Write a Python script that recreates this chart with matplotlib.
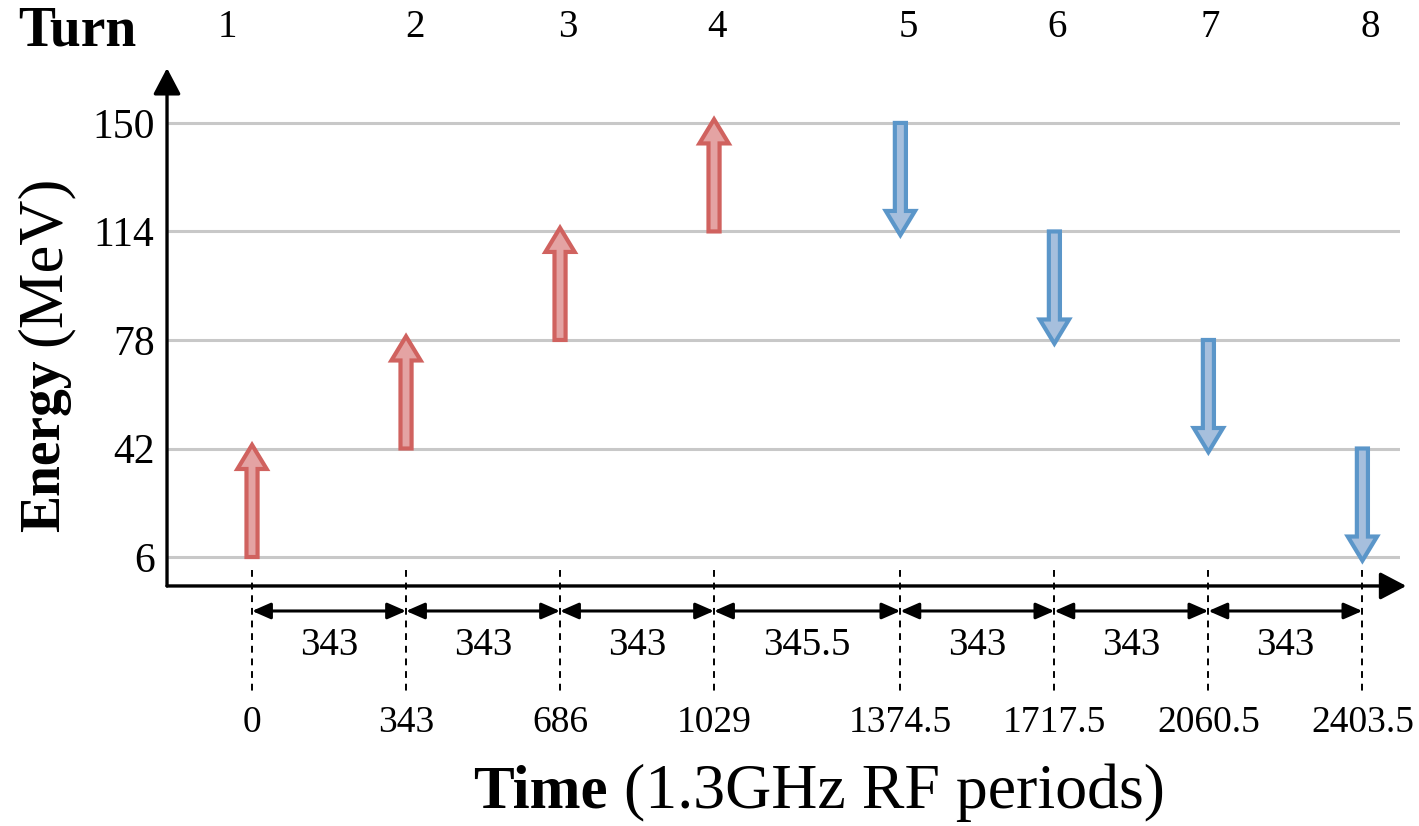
import numpy as np
import matplotlib
matplotlib.use("Agg")
import matplotlib.pyplot as plt
from matplotlib.patches import FancyArrow

# ============================================
# Data
# ============================================

turns = [1, 2, 3, 4, 5, 6, 7, 8]
times = [0, 343, 686, 1029, 1374.5, 1717.5, 2060.5, 2403.5]
time_labels = ["0", "343", "686", "1029", "1374.5", "1717.5", "2060.5", "2403.5"]
gap_labels = ["343", "343", "343", "345.5", "343", "343", "343"]
e_start = [6, 42, 78, 114, 150, 114, 78, 42]
e_end = [42, 78, 114, 150, 114, 78, 42, 6]
energy_ticks = [6, 42, 78, 114, 150]

# schematic x positions: one unit per 343 periods, wider step for the half-period gap
gaps = np.diff(times)
xpos = np.concatenate([[0], np.cumsum([1.0 if g == 343 else 1.21 for g in gaps])])

# small horizontal nudges (in axis units) of the turn numbers
turn_dx = [-0.16, 0.06, 0.05, 0.02, 0.05, 0.02, 0.01, 0.05]

RED_EDGE, RED_FACE = "#D0625F", "#E4A3A3"
BLUE_EDGE, BLUE_FACE = "#5B96C9", "#A6BFDD"
SERIF = ["Liberation Serif", "DejaVu Serif"]

plt.rcParams["font.family"] = SERIF

# ============================================
# Figure
# ============================================

fig = plt.figure(figsize=(14.19, 8.26), dpi=100)
ax = fig.add_axes([0.1177, 0.2906, 0.869, 0.627])
ax.set_xlim(-0.552, 7.455)
ax.set_ylim(-3.6, 168.2)

for s in ax.spines.values():
    s.set_visible(False)

ax.set_xticks([])
ax.set_yticks(energy_ticks)
ax.set_yticklabels([str(v) for v in energy_ticks], fontsize=30)
ax.tick_params(axis="y", length=0, pad=9)
ax.yaxis.grid(True, color="#c8c8c8", lw=2.2)
ax.set_axisbelow(True)

# axis arrows
axis_style = dict(arrowstyle="-|>,head_length=0.8,head_width=0.42",
                  color="black", lw=2.4, shrinkA=0, shrinkB=0,
                  mutation_scale=20)
ax.annotate("", xy=(0, 1), xytext=(0, 0), xycoords="axes fraction",
            arrowprops=axis_style)
ax.annotate("", xy=(1.005, 0), xytext=(0, 0), xycoords="axes fraction",
            arrowprops=axis_style)

# energy arrows
for x, e0, e1 in zip(xpos, e_start, e_end):
    up = e1 > e0
    fc, ec = (RED_FACE, RED_EDGE) if up else (BLUE_FACE, BLUE_EDGE)
    over = 1.2 if up else -1.2
    arr = FancyArrow(x, e0, 0, (e1 - e0) + over, width=0.072, head_width=0.19,
                     head_length=8.0, length_includes_head=True,
                     fc=fc, ec=ec, lw=3.0, zorder=3)
    ax.add_patch(arr)

# dashed guides, interval arrows and labels
for i, x in enumerate(xpos):
    ax.plot([x, x], [1.7, -38.5], ls=(0, (3.5, 3.0)), color="black", lw=1.4,
            clip_on=False)
    ax.text(x, -49, time_labels[i], fontsize=27, ha="center", va="center",
            clip_on=False)
    ax.text(x + turn_dx[i], 181.5, str(turns[i]), fontsize=28, ha="center",
            va="center", clip_on=False)

for i in range(len(gaps)):
    ax.annotate("", xy=(xpos[i + 1], -11.9), xytext=(xpos[i], -11.9),
                xycoords="data",
                arrowprops=dict(arrowstyle="<|-|>,head_length=0.8,head_width=0.35",
                                color="black", lw=2.2, shrinkA=0, shrinkB=0,
                                mutation_scale=14),
                annotation_clip=False)
    ax.text((xpos[i] + xpos[i + 1]) / 2, -23.5, gap_labels[i], fontsize=28,
            ha="center", va="center", clip_on=False)

# labels
fig.text(18 / 1419, 1 - 32 / 826, "Turn", fontsize=40, fontweight="bold",
         ha="left", va="center")

fig.text(608 / 1419, 1 - 793 / 826, "Time", fontsize=44, fontweight="bold",
         ha="right", va="center")
fig.text(624 / 1419, 1 - 793 / 826, "(1.3GHz RF periods)", fontsize=46,
         ha="left", va="center")

fig.text(45 / 1419, 1 - 360 / 826, "Energy", fontsize=40, fontweight="bold",
         rotation=90, ha="center", va="top")
fig.text(45 / 1419, 1 - 346 / 826, "(MeV)", fontsize=45,
         rotation=90, ha="center", va="bottom")

fig.savefig("out.png", dpi=100)
